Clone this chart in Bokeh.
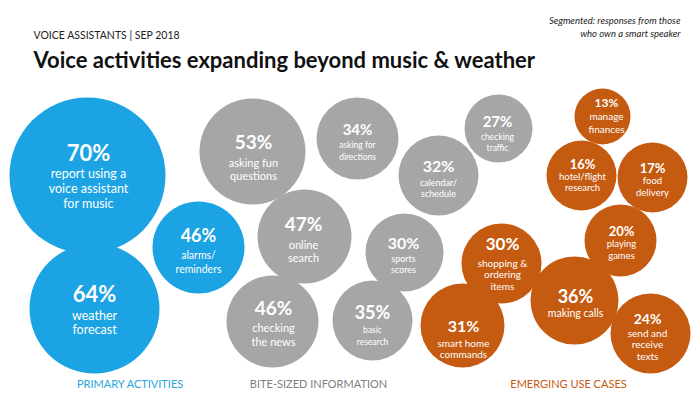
from bokeh.plotting import figure
from bokeh.models import ColumnDataSource, Range1d, Label
from bokeh.core.properties import value
from bokeh.embed import file_html
from bokeh.resources import INLINE

# ---- data ----
groups = ["primary", "primary", "primary",
          "bite", "bite", "bite", "bite", "bite", "bite", "bite", "bite",
          "emerging", "emerging", "emerging", "emerging", "emerging", "emerging", "emerging", "emerging"]
pcts = [70, 64, 46,
        53, 34, 32, 27, 47, 30, 46, 35,
        13, 16, 17, 20, 30, 36, 24, 31]
labels = ["report using a\nvoice assistant\nfor music", "weather\nforecast", "alarms/\nreminders",
          "asking fun\nquestions", "asking for\ndirections", "calendar/\nschedule", "checking\ntraffic",
          "online\nsearch", "sports\nscores", "checking\nthe news", "basic\nresearch",
          "manage\nfinances", "hotel/flight\nresearch", "food\ndelivery", "playing\ngames",
          "shopping &\nordering\nitems", "making calls", "send and\nreceive\ntexts", "smart home\ncommands"]
group_titles = ["PRIMARY ACTIVITIES", "BITE-SIZED INFORMATION", "EMERGING USE CASES"]

# ---- layout (bubble placement in pixel-like units) ----
bx = [87, 94, 198, 252, 357, 438, 498, 304, 404, 272, 372, 602, 581, 652, 620, 501, 574, 650, 462]
by = [175, 308, 247, 151, 138, 175, 128, 236, 252, 321, 320, 116, 175, 177, 240, 263, 300, 333, 325]
br = [78, 65, 46, 53, 41, 40, 34, 47, 39, 46, 40, 28, 35, 35, 36, 40, 44, 40, 42]
tx = [88, 94, 198, 253, 357, 438, 497, 303, 403, 273, 372, 606, 582, 652, 621, 502, 575, 647, 463]
ty = [152, 293, 234, 141, 128, 165, 120, 223, 242, 307, 311, 102, 163, 167, 230, 243, 295, 318, 325]
psz = [22, 22, 18, 19, 15, 16, 15, 19, 16, 19, 18, 12, 13, 13, 13, 17, 18, 14, 16]
lsz = [12.5, 12.5, 10.5, 11, 8.5, 9, 8.5, 11, 9, 11, 8.5, 10, 9.5, 9.5, 9.5, 10, 10.5, 10, 10]
gap = [21, 22, 20, 21, 16, 17, 16, 21, 16, 20, 18, 13, 13, 13, 13, 19, 17, 14, 17]
lh = [15, 14, 14, 13, 12, 11, 11, 13, 11, 14, 12, 13, 11, 12, 12, 11.5, 12, 11.5, 11]

colors = {"primary": "#1ba3e3", "bite": "#a6a6a6", "emerging": "#c55a11"}
title_colors = ["#2aa5dc", "#7f7f7f", "#c55a11"]
title_x = [130, 318, 568]
FONT = "Lato"

W, H = 700, 394
p = figure(width=W, height=H, x_range=Range1d(0, W), y_range=Range1d(H, 0),
           output_backend="svg", toolbar_location=None, min_border=0)
p.axis.visible = False
p.grid.visible = False
p.outline_line_color = None
p.background_fill_color = "white"
p.border_fill_color = "white"

bsrc = ColumnDataSource(dict(x=bx, y=by, r=br, c=[colors[g] for g in groups]))
p.circle(x="x", y="y", radius="r", fill_color="c", line_color=None, source=bsrc)

# percent labels
psrc = ColumnDataSource(dict(x=tx, y=ty, t=[f"{v}%" for v in pcts], s=[f"{s}px" for s in psz]))
p.text(x="x", y="y", text="t", text_font_size="s", source=psrc, text_color="white",
       text_align="center", text_baseline="middle", text_font=value(FONT), text_font_style="bold")

# description lines
lx, ly, lt, ls = [], [], [], []
for i, lab in enumerate(labels):
    for k, line in enumerate(lab.split("\n")):
        lx.append(tx[i])
        ly.append(ty[i] + gap[i] + k * lh[i])
        lt.append(line)
        ls.append(f"{lsz[i]}px")
lsrc = ColumnDataSource(dict(x=lx, y=ly, t=lt, s=ls))
p.text(x="x", y="y", text="t", text_font_size="s", source=lsrc, text_color="white",
       text_align="center", text_baseline="middle", text_font=value(FONT))

# group titles
gsrc = ColumnDataSource(dict(x=title_x, y=[383] * 3, t=group_titles, c=title_colors))
p.text(x="x", y="y", text="t", text_color="c", source=gsrc, text_font_size="11px",
       text_align="center", text_baseline="middle", text_font=value(FONT))

# header texts
p.add_layout(Label(x=33, y=34, text="VOICE ASSISTANTS | SEP 2018", text_font=FONT,
                   text_font_size="10.5px", text_color="#222222", text_baseline="middle"))
p.add_layout(Label(x=33, y=59, text="Voice activities expanding beyond music & weather", text_font=FONT,
                   text_font_size="22px", text_font_style="bold", text_color="#111111",
                   text_baseline="middle"))
p.add_layout(Label(x=680, y=20, text="Segmented: responses from those", text_font=FONT,
                   text_font_size="9.5px", text_font_style="italic", text_color="#222222",
                   text_align="right", text_baseline="middle"))
p.add_layout(Label(x=680, y=33, text="who own a smart speaker", text_font=FONT,
                   text_font_size="9.5px", text_font_style="italic", text_color="#222222",
                   text_align="right", text_baseline="middle"))

open("out.html", "w").write(file_html(p, INLINE))
